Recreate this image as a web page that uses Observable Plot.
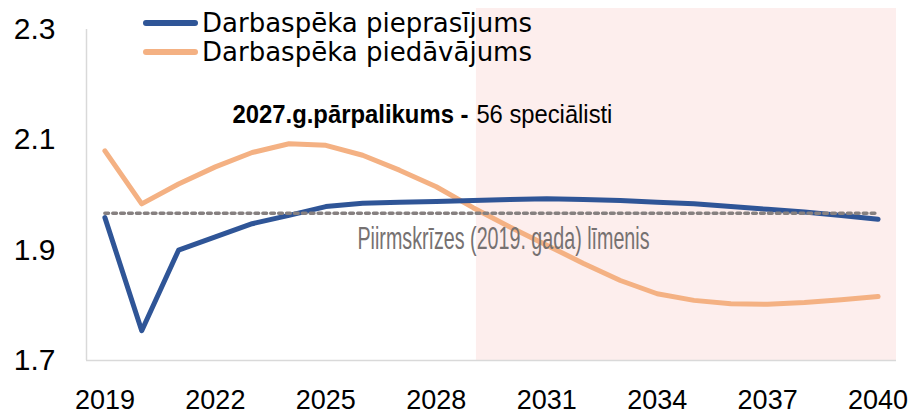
<!DOCTYPE html>
<html>
<head>
<meta charset="utf-8">
<script src="https://cdn.jsdelivr.net/npm/d3@7"></script>
<script src="https://cdn.jsdelivr.net/npm/@observablehq/plot@0.6"></script>
<style>
  html, body { margin: 0; padding: 0; background: #fff; }
  #wrap { position: relative; width: 917px; height: 415px; overflow: hidden; }
  #legend { position: absolute; left: 143px; top: 8px; font-family: "DejaVu Sans", sans-serif; font-size: 26px; color: #000; }
  .row { display: flex; align-items: center; height: 29.5px; white-space: nowrap; }
  .sw { width: 55px; height: 6px; border-radius: 3px; margin-right: 4px; }
</style>
</head>
<body>
<div id="wrap"><div id="legend"></div></div>
<script>
// ---- data ----
const years = [2019, 2020, 2021, 2022, 2023, 2024, 2025, 2026, 2027, 2028, 2029,
               2030, 2031, 2032, 2033, 2034, 2035, 2036, 2037, 2038, 2039, 2040];
const demand = [1.959, 1.754, 1.900, 1.924, 1.948, 1.963, 1.979, 1.985, 1.987, 1.988, 1.990,
                1.992, 1.993, 1.992, 1.990, 1.987, 1.984, 1.979, 1.974, 1.969, 1.963, 1.956];
const supply = [2.080, 1.984, 2.020, 2.051, 2.077, 2.093, 2.090, 2.072, 2.045, 2.015, 1.977,
                1.942, 1.909, 1.876, 1.845, 1.821, 1.809, 1.803, 1.802, 1.805, 1.810, 1.816];
const baselineLevel = 1.967;
const seriesNames = ["Darbaspēka pieprasījums", "Darbaspēka piedāvājums"];
const seriesColors = ["#2f5597", "#f4b183"];
const yTicks = [1.7, 1.9, 2.1, 2.3];
const xTicks = [2019, 2022, 2025, 2028, 2031, 2034, 2037, 2040];
const forecastBand = [{x1: 2029.09, x2: 2040.5, y1: 1.7, y2: 2.338}];
const annotationBold = [{x: 2022.465, y: 2.1464, text: "2027.g.pārpalikums -"}];
const annotationRegular = [{x: 2029.09, y: 2.1464, text: "56 speciālisti"}];
const baselineLabel = [{x: 2025.86, y: 1.9215, text: "Piirmskrīzes (2019. gada) līmenis"}];

const demandData = years.map((y, i) => ({year: y, value: demand[i]}));
const supplyData = years.map((y, i) => ({year: y, value: supply[i]}));
const baseData = years.map(y => ({year: y, value: baselineLevel}));

const narrow = "'Liberation Sans Narrow', 'Arial Narrow', 'Liberation Sans', sans-serif";

const chart = Plot.plot({
  width: 917,
  height: 415,
  marginLeft: 86,
  marginRight: 21,
  marginTop: 29,
  marginBottom: 55,
  style: {fontFamily: "'Liberation Sans', sans-serif", background: "transparent"},
  x: {domain: [2018.5, 2040.5]},
  y: {domain: [1.7, 2.3]},
  marks: [
    Plot.rect(forecastBand, {x1: "x1", x2: "x2", y1: "y1", y2: "y2", fill: "#fdeeed"}),
    Plot.ruleY([1.7], {stroke: "#d9d9d9", strokeWidth: 1.5}),
    Plot.ruleX([2018.5], {y1: 1.7, y2: 2.3, stroke: "#d9d9d9", strokeWidth: 1.5}),
    Plot.axisY({ticks: yTicks, tickFormat: d => d.toFixed(1), tickSize: 0, tickPadding: 31, fontSize: 30, fill: "#000", label: null}),
    Plot.axisX({ticks: xTicks, tickFormat: d => String(d), tickSize: 0, tickPadding: 29, fontSize: 27, fill: "#000", label: null}),
    Plot.line(supplyData, {x: "year", y: "value", stroke: seriesColors[1], strokeWidth: 5, strokeLinecap: "round", strokeLinejoin: "round"}),
    Plot.line(demandData, {x: "year", y: "value", stroke: seriesColors[0], strokeWidth: 5, strokeLinecap: "round", strokeLinejoin: "round"}),
    Plot.line(baseData, {x: "year", y: "value", stroke: "#868080", strokeWidth: 3.6, strokeDasharray: "3.6,4.3"}),
    Plot.text(baselineLabel, {x: "x", y: "y", text: "text", textAnchor: "start", fontSize: 32, fontFamily: narrow, fill: "#767171"}),
    Plot.text(annotationBold, {x: "x", y: "y", text: "text", textAnchor: "start", fontSize: 26, fontWeight: "bold", fontFamily: narrow, fill: "#000"}),
    Plot.text(annotationRegular, {x: "x", y: "y", text: "text", textAnchor: "start", fontSize: 26, fontFamily: narrow, fill: "#000"})
  ]
});

const fitLengths = new Map([
  [baselineLabel[0].text, 292],
  [annotationBold[0].text, 236],
  [annotationRegular[0].text, 136]
]);
d3.select(chart).selectAll("text").each(function() {
  const len = fitLengths.get(this.textContent);
  if (len) d3.select(this).attr("textLength", len).attr("lengthAdjust", "spacingAndGlyphs");
});

document.getElementById("wrap").prepend(chart);

const legend = d3.select("#legend");
seriesNames.forEach((name, i) => {
  const row = legend.append("div").attr("class", "row");
  row.append("div").attr("class", "sw").style("background", seriesColors[i]);
  row.append("span").text(name);
});
</script>
</body>
</html>
